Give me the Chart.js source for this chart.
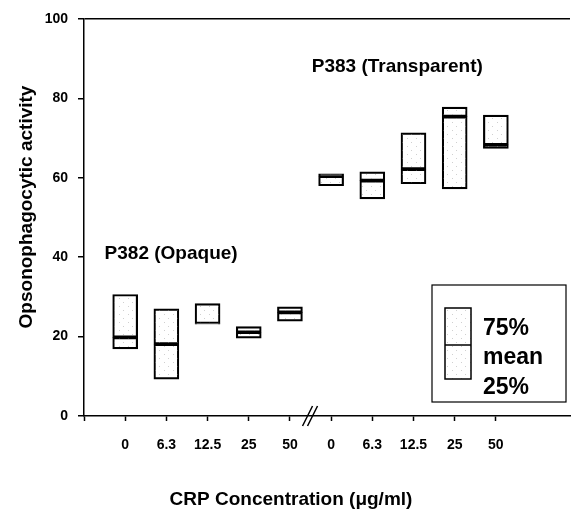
<!DOCTYPE html>
<html>
<head>
<meta charset="utf-8">
<script src="https://cdn.jsdelivr.net/npm/chart.js@4"></script>
<style>
  body { margin: 0; background: #fff; }
  canvas { display: block; }
</style>
</head>
<body>
<canvas id="box-chart" width="576" height="513"></canvas>
<script>
// CRP doses, first P382 (opaque) then P383 (transparent)
const doseLabels = ['0', '6.3', '12.5', '25', '50', '0', '6.3', '12.5', '25', '50']
const q25 = [16.9, 9.3, 23.1, 19.6, 23.9, 58.0, 54.7, 58.5, 57.2, 67.4]
const means = [19.8, 18.1, 23.3, 21.1, 26.1, 60.4, 59.3, 62.2, 75.4, 68.3]
const q75 = [30.6, 27.0, 28.3, 22.5, 27.5, 61.0, 61.5, 71.3, 77.8, 75.8]
const yTicks = [0, 20, 40, 60, 80, 100]

const FONT = '"Liberation Sans", Arial, sans-serif'

// light stipple like the scanned boxes
function stipple() {
    const c = document.createElement('canvas')
    c.width = 9
    c.height = 8
    const g = c.getContext('2d')
    g.fillStyle = 'rgba(150,150,150,0.45)'
    g.fillRect(2, 2, 1, 1)
    g.fillRect(6, 6, 1, 1)
    return c.getContext('2d').createPattern(c, 'repeat')
}
const fill = stipple()

// lower half (25% -> mean) and upper half (mean -> 75%)
const lower = doseLabels.map((d, i) => ({ x: i + 1, y: [q25[i], means[i]] }))
const upper = doseLabels.map((d, i) => ({ x: i + 1, y: [means[i], q75[i]] }))

const decor = {
    id: 'decor',
    afterDraw(chart) {
        const ctx = chart.ctx
        const xs = chart.scales.x
        const ys = chart.scales.y
        ctx.save()
        ctx.fillStyle = '#000'
        ctx.strokeStyle = '#000'

        // axis break between the two strains
        const bx = xs.getPixelForValue(5.5)
        const by = ys.getPixelForValue(0)
        ctx.lineWidth = 1.5
        ctx.beginPath()
        ctx.moveTo(bx - 8, by + 10); ctx.lineTo(bx + 2, by - 10)
        ctx.moveTo(bx - 3, by + 10); ctx.lineTo(bx + 7, by - 10)
        ctx.stroke()

        // strain labels
        ctx.textBaseline = 'middle'
        ctx.textAlign = 'left'
        ctx.font = 'bold 19px ' + FONT
        ctx.fillText('P383 (Transparent)', xs.getPixelForValue(5.53), ys.getPixelForValue(88))
        ctx.fillText('P382 (Opaque)', xs.getPixelForValue(0.5), ys.getPixelForValue(40.8))

        // axis titles
        ctx.textAlign = 'center'
        ctx.fillText('CRP Concentration (\u03bcg/ml)', 291, 500)
        ctx.save()
        ctx.translate(27, 207)
        ctx.rotate(-Math.PI / 2)
        ctx.fillText('Opsonophagocytic activity', 0, 0)
        ctx.restore()

        // key box
        ctx.fillStyle = '#fff'
        ctx.fillRect(432, 285, 134, 117)
        ctx.lineWidth = 1.2
        ctx.strokeRect(432, 285, 134, 117)
        ctx.fillStyle = fill
        ctx.fillRect(445, 308, 26, 71)
        ctx.lineWidth = 1.5
        ctx.strokeRect(445, 308, 26, 71)
        ctx.beginPath()
        ctx.moveTo(445, 345); ctx.lineTo(471, 345)
        ctx.stroke()
        ctx.fillStyle = '#000'
        ctx.textAlign = 'left'
        ctx.font = 'bold 23px ' + FONT
        ctx.fillText('75%', 483, 329)
        ctx.fillText('mean', 483, 358)
        ctx.fillText('25%', 483, 388)
        ctx.restore()
    }
}

const barStyle = {
    backgroundColor: fill,
    borderColor: '#000',
    borderWidth: 1.5,
    borderSkipped: false,
    barThickness: 25,
    grouped: false
}

new Chart(document.getElementById('box-chart'), {
    type: 'bar',
    data: {
        datasets: [
            Object.assign({ label: 'lower', data: lower }, barStyle),
            Object.assign({ label: 'upper', data: upper }, barStyle)
        ]
    },
    options: {
        responsive: false,
        animation: false,
        layout: { padding: { top: 19, right: 6, left: 0, bottom: 0 } },
        plugins: {
            legend: { display: false },
            tooltip: { enabled: false }
        },
        scales: {
            x: {
                type: 'linear',
                min: 0,
                max: 11.8,
                offset: false,
                afterFit: s => { s.height = 97 },
                afterBuildTicks: s => { s.ticks = [0, 1, 2, 3, 4, 5, 6, 7, 8, 9, 10].map(v => ({ value: v })) },
                ticks: {
                    autoSkip: false,
                    maxRotation: 0,
                    padding: 16,
                    color: '#000',
                    font: { family: FONT, size: 14, weight: 'bold' },
                    callback: v => v >= 1 ? doseLabels[v - 1] : ''
                },
                grid: { offset: false, drawOnChartArea: false, tickLength: 5, tickColor: '#000', tickWidth: 1.5 },
                border: { color: '#000', width: 1.5 }
            },
            y: {
                min: 0,
                max: 100,
                afterFit: s => { s.width = 84 },
                afterBuildTicks: s => { s.ticks = yTicks.map(v => ({ value: v })) },
                ticks: {
                    padding: 10,
                    color: '#000',
                    font: { family: FONT, size: 14, weight: 'bold' }
                },
                grid: {
                    color: c => c.tick && c.tick.value === 100 ? '#000' : 'rgba(0,0,0,0)',
                    lineWidth: 1.5,
                    tickLength: 6,
                    tickColor: '#000',
                    tickWidth: 1.5
                },
                border: { color: '#000', width: 1.5 }
            }
        }
    },
    plugins: [decor]
})
</script>
</body>
</html>
